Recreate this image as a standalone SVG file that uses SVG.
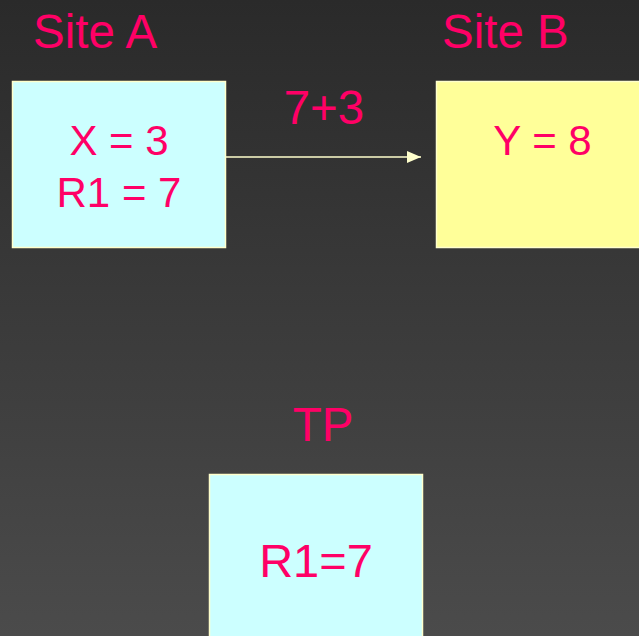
<svg xmlns="http://www.w3.org/2000/svg" width="639" height="636" viewBox="0 0 639 636">
  <defs>
    <linearGradient id="bg" x1="0" y1="0" x2="0" y2="1">
      <stop offset="0" stop-color="#2a2a2a"/>
      <stop offset="1" stop-color="#4b4b4b"/>
    </linearGradient>
    <marker id="arrow" markerWidth="14" markerHeight="14" refX="14" refY="7" orient="auto" markerUnits="userSpaceOnUse">
      <path d="M0,1 L14,7 L0,13 Z" fill="#ffffcc"/>
    </marker>
    <style>
      text { font-family: "Liberation Sans", Arial, sans-serif; fill: #ff0066; }
      .title { font-size: 47.5px; }
      .val { font-size: 42px; text-anchor: middle; }
      .box { stroke: #ffffcc; stroke-width: 1.5; }
      .cyan { fill: #ccffff; }
      .yellow { fill: #ffff99; }
    </style>
  </defs>

  <rect width="639" height="636" fill="url(#bg)"/>

  <g id="site-a">
    <text class="title" x="33" y="48">Site A</text>
    <rect class="box cyan" x="12.5" y="81.5" width="213" height="166"/>
    <text class="val" x="119" y="155">X = 3</text>
    <text class="val" x="119" y="207">R1 = 7</text>
  </g>

  <g id="site-b">
    <text class="title" x="442" y="48">Site B</text>
    <rect class="box yellow" x="436.5" y="81.5" width="210" height="166"/>
    <text class="val" x="542.5" y="155">Y = 8</text>
  </g>

  <g id="tp">
    <text class="title" x="323" y="441" text-anchor="middle">TP</text>
    <rect class="box cyan" x="209.5" y="474.5" width="213" height="170"/>
    <text class="val" x="316" y="577" style="font-size:47px">R1=7</text>
  </g>

  <g id="connectors">
    <line x1="226" y1="157" x2="421" y2="157" stroke="#ffffcc" stroke-width="1.5" marker-end="url(#arrow)"/>
    <text class="title" x="324" y="124" text-anchor="middle">7+3</text>
  </g>
</svg>
